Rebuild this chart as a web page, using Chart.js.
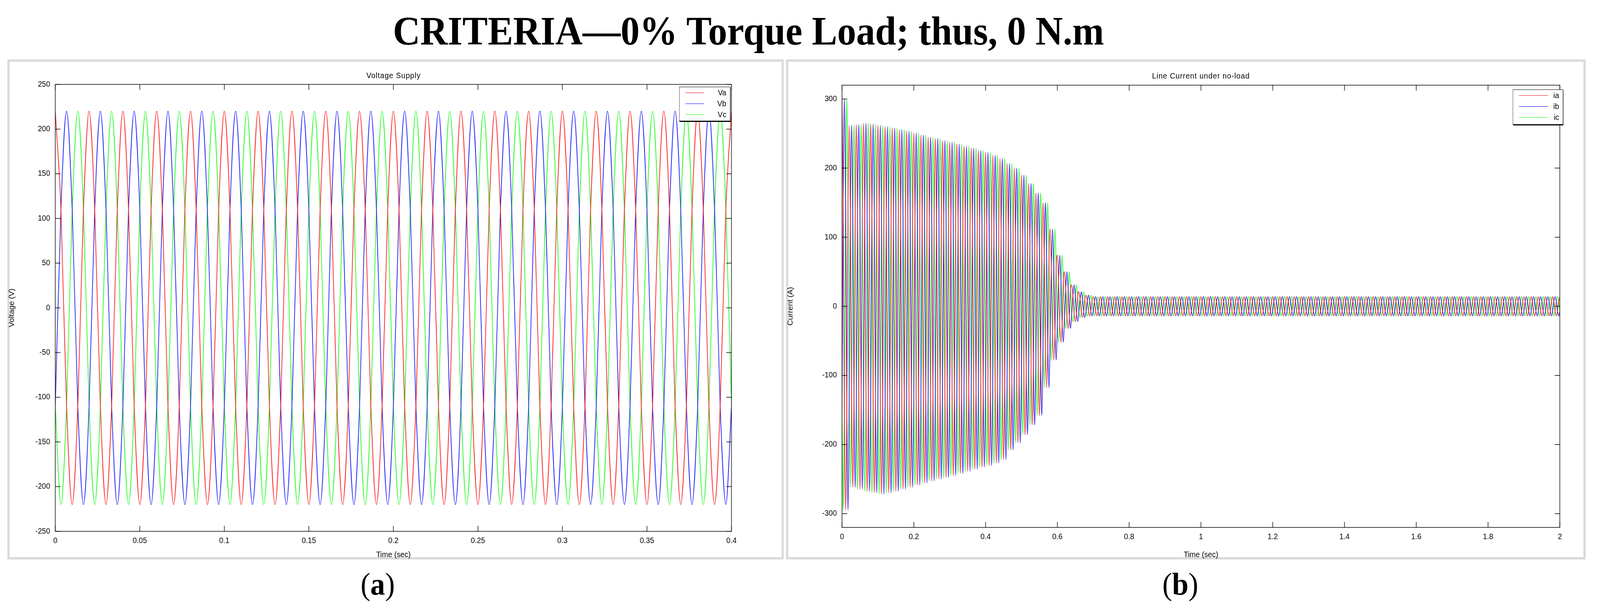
<!DOCTYPE html>
<html>
<head>
<meta charset="utf-8">
<script src="https://cdn.jsdelivr.net/npm/chart.js@4"></script>
<style>
  html, body { margin:0; padding:0; background:#fff; overflow:hidden; }
  #page { position:absolute; left:0; top:0; width:4342px; height:1546px; transform-origin:0 0; font-family:"Liberation Sans", Arial, sans-serif; }
  .box { position:absolute; border:6px solid #dadada; box-sizing:border-box; background:#fff; }
  canvas { position:absolute; }
  .title { position:absolute; left:-140px; width:4342px; top:20px; text-align:center; font:bold 103px "Liberation Serif", serif; }
  .ptitle { position:absolute; font-size:20px; transform:translateX(-50%); letter-spacing:1px; white-space:nowrap; }
  .cap { position:absolute; font:80px "Liberation Serif", serif; transform:translateX(-50%); top:1450px; }
  .legend { position:absolute; border:1.5px solid #000; background:#fff; font-size:20px; box-shadow:1px 2px 0 #000; }
  .legend div { position:relative; height:28px; line-height:28px; }
  .legend span.l { position:absolute; left:16px; top:14px; width:80px; height:0; border-top:1.5px solid; }
  .legend span.t { position:absolute; right:10px; }
</style>
</head>
<body>
<div id="page">
<div class="title">CRITERIA—0% Torque Load; thus, 0 N.m</div>
<div class="box" style="left:20px;top:152px;width:2107px;height:1280px"></div>
<div class="box" style="left:2133px;top:152px;width:2170px;height:1280px"></div>
<canvas id="c1" style="left:20px;top:152px"></canvas>
<canvas id="c2" style="left:2133px;top:152px"></canvas>
<div class="ptitle" style="left:1068px;top:182px">Voltage Supply</div>
<div class="ptitle" style="left:3259px;top:183px">Line Current under no-load</div>
<div class="cap" style="left:1025px">(<b>a</b>)</div>
<div class="cap" style="left:3203px">(<b>b</b>)</div>
<div class="legend" style="left:1843px;top:222px;width:137px;height:86px">
  <div><span class="l" style="border-color:#f00;width:50px"></span><span class="t">Va</span></div>
  <div><span class="l" style="border-color:#00f;width:50px"></span><span class="t">Vb</span></div>
  <div><span class="l" style="border-color:#0f0;width:50px"></span><span class="t">Vc</span></div>
</div>
<div class="legend" style="left:4105px;top:229px;width:135px;height:88px">
  <div><span class="l" style="border-color:#f00"></span><span class="t">ia</span></div>
  <div><span class="l" style="border-color:#00f"></span><span class="t">ib</span></div>
  <div><span class="l" style="border-color:#0f0"></span><span class="t">ic</span></div>
</div>
</div>
<script>
var sx = window.innerWidth / 4342
var sy = window.innerHeight / 1546
document.getElementById('page').style.transform = 'scale(' + sx + ',' + sy + ')'

// 50 Hz supply, 6 samples per cycle (every 1/300 s)
var freq = 50
var vAmp = 220
var vCycle = [1, 0.5, -0.5, -1, -0.5, 0.5]   // Va shape, Vb/Vc shifted by 2 and 4 samples
var vEnd = 0.4

// current envelope per cycle (0.02 s each)
var iUpper = [300,262,263,265,264,262,260,258,256,254,251,248,245,243,240,238,235,232,229,226,223,219,214,207,200,190,178,164,150,112,74,50,31,21,16].concat(Array(66).fill(14))
var iLower = [-295,-262,-265,-268,-270,-272,-270,-268,-265,-262,-259,-256,-253,-250,-248,-245,-242,-239,-236,-233,-231,-227,-222,-208,-198,-186,-172,-158,-118,-78,-52,-32,-22,-16,-14].concat(Array(66).fill(-14))
var iEnd = 2

var colors = ['#ff0000', '#0000ff', '#00ff00']

function buildV(shift){
  var pts = []
  var n = Math.round(vEnd * freq * 6)
  for (var s = 0; s <= n; s++){
    pts.push({x: s / (freq * 6), y: vAmp * vCycle[(s + 6 - shift) % 6]})
  }
  return pts
}
function buildI(shift){
  var pts = []
  var n = Math.round(iEnd * freq * 6)
  for (var s = 0; s <= n; s++){
    var k = Math.min(Math.floor(s / 6), iUpper.length - 1)
    var f = vCycle[(s + 6 - shift) % 6]
    var a = f > 0 ? iUpper[k] : -iLower[k]
    pts.push({x: s / (freq * 6), y: a * f})
  }
  return pts
}

var frame = {
  id: 'frame',
  afterDraw(chart){
    var a = chart.chartArea, g = chart.ctx
    g.save(); g.strokeStyle = '#000'; g.lineWidth = 1.5
    g.strokeRect(a.left, a.top, a.right - a.left, a.bottom - a.top)
    var xs = chart.scales.x, ys = chart.scales.y
    xs.ticks.forEach(function(t){
      var p = xs.getPixelForValue(t.value)
      g.beginPath(); g.moveTo(p, a.bottom); g.lineTo(p, a.bottom - 14); g.moveTo(p, a.top); g.lineTo(p, a.top + 14); g.stroke()
    })
    ys.ticks.forEach(function(t){
      var p = ys.getPixelForValue(t.value)
      g.beginPath(); g.moveTo(a.left, p); g.lineTo(a.left + 14, p); g.moveTo(a.right, p); g.lineTo(a.right - 14, p); g.stroke()
    })
    g.restore()
  }
}

function fmt(v){ return String(Number(v.toFixed(2))) }

function makeChart(id, w, h, sets, xmax, xstep, ymin, ymax, ystep, ytitle, pad, yw, xh){
  var cv = document.getElementById(id)
  cv.width = w; cv.height = h
  cv.style.width = w + 'px'; cv.style.height = h + 'px'
  return new Chart(cv, {
    type: 'line',
    data: { datasets: sets },
    options: {
      responsive: false, animation: false, devicePixelRatio: 1,
      layout: { padding: pad },
      plugins: { legend: { display: false }, tooltip: { enabled: false } },
      elements: { point: { radius: 0 }, line: { borderWidth: 1.7, cubicInterpolationMode: 'monotone' } },
      scales: {
        x: {
          type: 'linear', min: 0, max: xmax,
          grid: { display: false }, border: { display: false },
          ticks: { stepSize: xstep, color: '#000', font: { size: 20, family: 'Liberation Sans' }, maxRotation: 0, padding: 4, callback: fmt },
          title: { display: true, text: 'Time (sec)', color: '#000', font: { size: 20, family: 'Liberation Sans' }, padding: 0 },
          afterFit: function(s){ s.height = xh }
        },
        y: {
          min: ymin, max: ymax,
          grid: { display: false }, border: { display: false },
          ticks: { stepSize: ystep, color: '#000', font: { size: 20, family: 'Liberation Sans' }, padding: 6, callback: fmt },
          afterBuildTicks: function(s){ s.ticks = s.ticks.filter(function(t){ return Math.abs(t.value % ystep) < 1e-6 }) },
          title: { display: true, text: ytitle, color: '#000', font: { size: 20, family: 'Liberation Sans' }, padding: 0 },
          afterFit: function(s){ s.width = yw }
        }
      }
    },
    plugins: [frame]
  })
}

var vNames = ['Va', 'Vb', 'Vc']
var iNames = ['ia', 'ib', 'ic']
makeChart('c1', 2107, 1280,
  [0, 1, 2].map(function(p){ return { label: vNames[p], data: buildV(p * 2), borderColor: colors[p] } }),
  0.4, 0.05, -250, 250, 50, 'Voltage (V)', { top: 64, right: 142, left: 0, bottom: 0 }, 130, 72)
makeChart('c2', 2170, 1280,
  [0, 1, 2].map(function(p){ return { label: iNames[p], data: buildI(p * 2), borderColor: colors[p] } }),
  2, 0.2, -320, 320, 100, 'Current (A)', { top: 66, right: 70, left: 0, bottom: 0 }, 152, 82)
</script>
</body>
</html>
